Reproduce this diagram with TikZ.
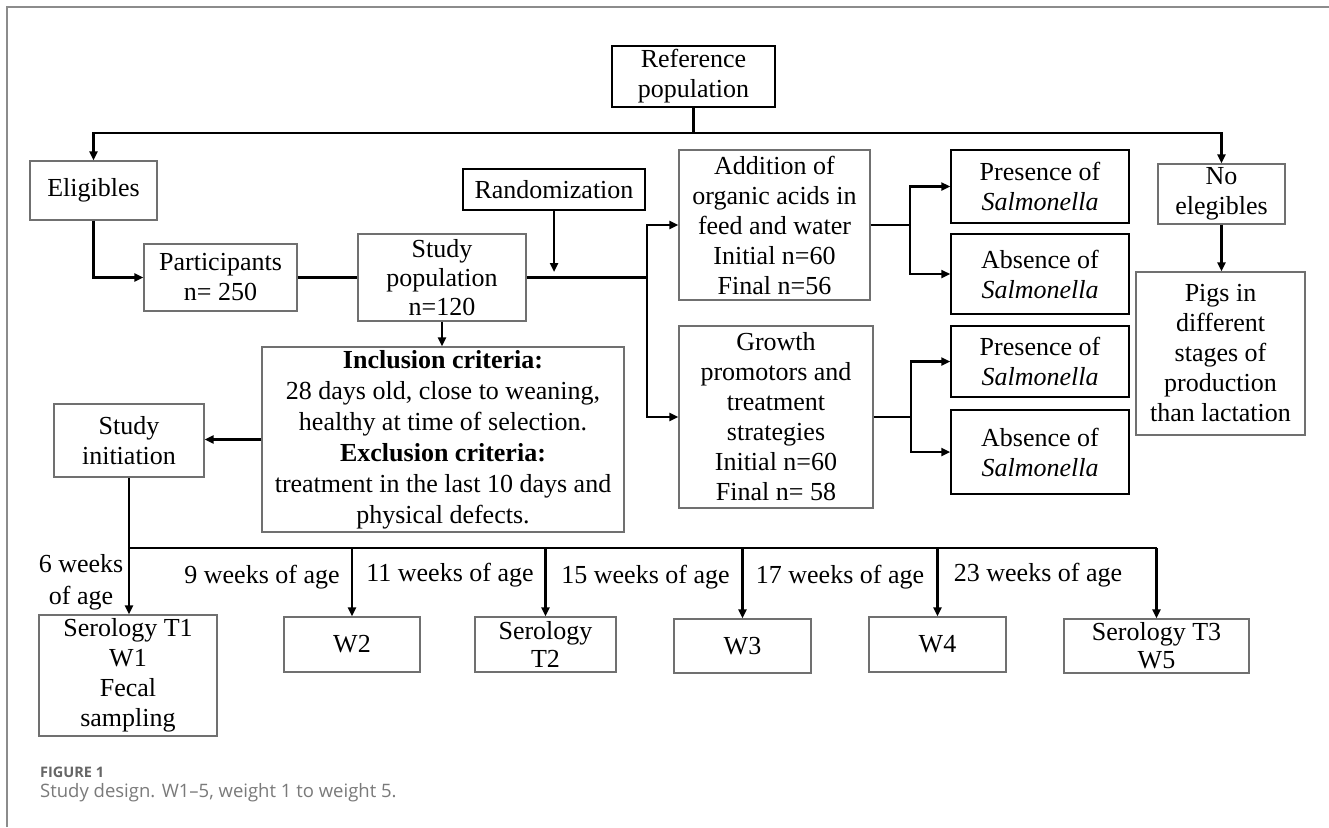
\documentclass[tikz,border=0pt]{standalone}
\usepackage{fontspec}
\setmainfont{Liberation Serif}
\newfontfamily\capfont{Open Sans}
\usetikzlibrary{arrows.meta}
\definecolor{framegray}{HTML}{8C8C8C}
\definecolor{boxgray}{HTML}{707070}
\definecolor{capdark}{HTML}{666666}
\definecolor{caplight}{HTML}{7A7A7A}
\tikzset{
  box/.style={draw=boxgray, line width=1.2pt, align=center, inner sep=0pt,
    font=\fontsize{26}{30}\selectfont},
  darkbox/.style={box, draw=black, line width=1.5pt},
  conn/.style={draw=black, line width=2.3pt},
  arr/.style={conn, -{Triangle[length=9pt,width=8pt]}},
  lbl/.style={inner sep=0pt, align=center, font=\fontsize{26}{32}\selectfont},
}
\begin{document}
\begin{tikzpicture}[x=1pt,y=-1pt]
\useasboundingbox (0,0) rectangle (1329,827);
\fill[white] (0,0) rectangle (1329,827);
\draw[framegray, line width=1.5pt] (7,827) -- (7,7) -- (1329,7);

% boxes
\node[darkbox, minimum width=163pt, minimum height=61pt] (ref) at (693.5,76.5) {Reference\\population};
\node[box, minimum width=127pt, minimum height=59pt] (elig) at (93.5,190.5) {Eligibles};
\node[box, minimum width=153pt, minimum height=67pt] (part) at (220.5,277.5) {Participants\\n= 250};
\node[box, minimum width=168pt, minimum height=87pt, font=\fontsize{26}{29}\selectfont] (studypop) at (442,277.5) {Study\\population\\n=120};
\node[darkbox, minimum width=182pt, minimum height=41pt] (rand) at (554,189.5) {Randomization};
\node[box, minimum width=191pt, minimum height=150pt] (add) at (774.5,225) {Addition of\\organic acids in\\feed and water\\Initial n=60\\Final n=56};
\node[box, minimum width=194pt, minimum height=182pt] (growth) at (776,417) {Growth\\promotors and\\treatment\\strategies\\Initial n=60\\Final n= 58};
\node[darkbox, minimum width=178pt, minimum height=73pt] (pres1) at (1040,186.5) {Presence of\\\textit{Salmonella}};
\node[darkbox, minimum width=178pt, minimum height=80pt] (abs1) at (1040,274) {Absence of\\\textit{Salmonella}};
\node[darkbox, minimum width=178pt, minimum height=71pt] (pres2) at (1040,361.5) {Presence of\\\textit{Salmonella}};
\node[darkbox, minimum width=178pt, minimum height=84pt] (abs2) at (1040,452) {Absence of\\\textit{Salmonella}};
\node[box, minimum width=127pt, minimum height=60pt] (noelig) at (1221.5,194) {No\\elegibles};
\node[box, minimum width=169pt, minimum height=163pt] (pigs) at (1220.5,353.5) {Pigs in\\different\\stages of\\production\\than lactation};
\node[box, minimum width=362pt, minimum height=185pt, font=\fontsize{26}{31}\selectfont] (incl) at (443,439.5) {\textbf{Inclusion criteria:}\\28 days old, close to weaning,\\healthy at time of selection.\\\textbf{Exclusion criteria:}\\treatment in the last 10 days and\\physical defects.};
\node[box, minimum width=150pt, minimum height=73pt] (init) at (129,440.5) {Study\\initiation};
\node[box, minimum width=178pt, minimum height=121pt] (s1) at (128,675.5) {Serology T1\\W1\\Fecal\\sampling};
\node[box, minimum width=136pt, minimum height=55pt] (w2) at (352,644.5) {W2};
\node[box, minimum width=141pt, minimum height=55pt, font=\fontsize{26}{28}\selectfont] (s2) at (545.5,644.5) {Serology\\T2};
\node[box, minimum width=137pt, minimum height=54pt] (w3) at (742.5,646) {W3};
\node[box, minimum width=137pt, minimum height=55pt] (w4) at (937.5,644.5) {W4};
\node[box, minimum width=185pt, minimum height=54pt, font=\fontsize{26}{28}\selectfont] (s3) at (1156.5,646) {Serology T3\\W5};

% labels
\node[lbl] (l6) at (81,582) {6 weeks\\of age};
\node[lbl] (l9) at (262,577) {9 weeks of age};
\node[lbl] (l11) at (450,575) {11 weeks of age};
\node[lbl] (l15) at (645.5,577) {15 weeks of age};
\node[lbl] (l17) at (840,577) {17 weeks of age};
\node[lbl] (l23) at (1038,575) {23 weeks of age};

% caption
\node[anchor=west, inner sep=0pt, text=capdark, font=\capfont\bfseries\fontsize{14.5}{16}\selectfont] (cap1) at (40,772) {FIGURE 1};
\node[anchor=west, inner sep=0pt, text=caplight, font=\capfont\fontsize{18.5}{20}\selectfont] (cap2) at (40,793) {Study design. W1–5, weight 1 to weight 5.};

% connectors
\coordinate (hb) at (693.5,133);
\draw[conn] (ref.south) -- (hb);
\draw[arr] (hb) -| (elig.north);
\draw[arr] (hb) -| (noelig.north);
\draw[arr] (elig.south) |- (part.west);
\draw[conn] (part.east) -- (studypop.west);
\coordinate (br) at (647,277.5);
\draw[conn] (studypop.east) -- (br);
\coordinate (rj) at (554,272);
\draw[arr] (rand.south) -- (rj);
\draw[arr] (br) |- (add.west);
\draw[arr] (br) |- (growth.west);
\coordinate (ba) at (910,225);
\draw[conn] (add.east) -- (ba);
\draw[arr] (ba) |- (pres1.west);
\draw[arr] (ba) |- (abs1.west);
\coordinate (bg) at (911,417);
\draw[conn] (growth.east) -- (bg);
\draw[arr] (bg) |- (pres2.west);
\draw[arr] (bg) |- (abs2.west);
\draw[arr] (noelig.south) -- (noelig.south |- pigs.north);
\draw[arr] (studypop.south) -- (studypop.south |- incl.north);
\draw[arr] (incl.west) -- (incl.west -| init.east);
\draw[arr] (init.south) -- (init.south |- s1.north);
\coordinate (bus0) at (129,548);
\coordinate (bus1) at (1156.5,548);
\draw[conn, line width=2.7pt] (bus0) -- (bus1);
\draw[arr] (w2.north |- bus0) -- (w2.north);
\draw[arr] (s2.north |- bus0) -- (s2.north);
\draw[arr] (w3.north |- bus0) -- (w3.north);
\draw[arr] (w4.north |- bus0) -- (w4.north);
\draw[arr] (s3.north |- bus0) -- (s3.north);
\end{tikzpicture}
\end{document}
